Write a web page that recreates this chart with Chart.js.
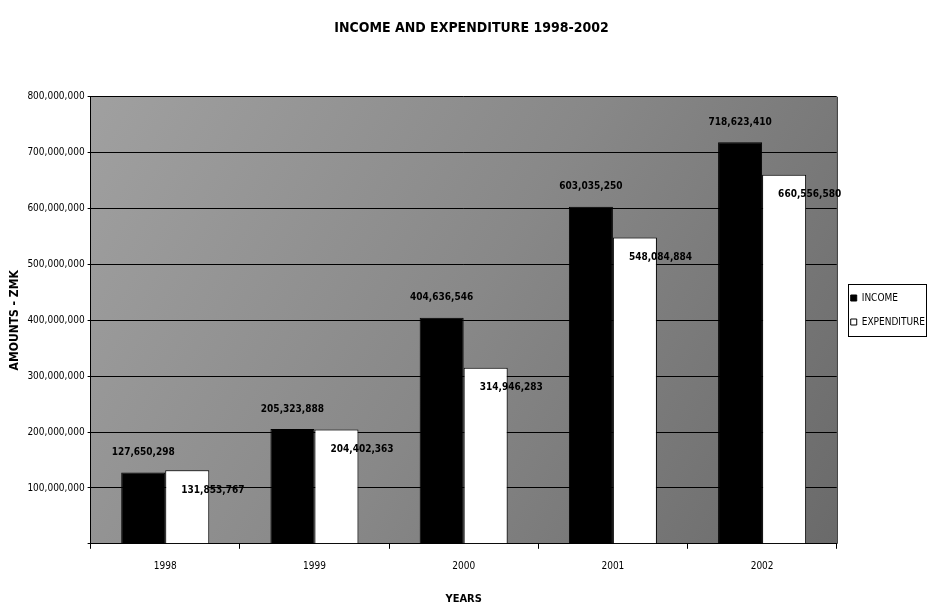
<!DOCTYPE html>
<html>
<head>
<meta charset="utf-8">
<script src="https://cdn.jsdelivr.net/npm/chart.js@4.4.1/dist/chart.umd.min.js"></script>
<style>
html,body{margin:0;padding:0;background:#fff;}
#wrap{width:929px;height:606px;}
</style>
</head>
<body>
<div id="wrap"><canvas id="c" width="929" height="606"></canvas></div>
<script>
const years = ['1998', '1999', '2000', '2001', '2002'];
const income = [127650298, 205323888, 404636546, 603035250, 718623410];
const expenditure = [131853767, 204402363, 314946283, 548084884, 660556580];
const seriesNames = ['INCOME', 'EXPENDITURE'];
const chartTitle = 'INCOME AND EXPENDITURE 1998-2002';
const xTitle = 'YEARS';
const yTitle = 'AMOUNTS - ZMK';

const NARROW = '"DejaVu Sans Condensed", "Liberation Sans Narrow", sans-serif';
const fmt = v => Math.round(v).toLocaleString('en-US');

const plotBg = {
  id: 'plotBg',
  beforeDraw(chart) {
    const {ctx, chartArea: a} = chart;
    const g = ctx.createLinearGradient(a.left, a.top, a.right, a.bottom);
    g.addColorStop(0, '#a0a0a0');
    g.addColorStop(0.5, '#888888');
    g.addColorStop(1, '#6a6a6a');
    ctx.save();
    ctx.fillStyle = g;
    ctx.fillRect(a.left, a.top, a.right - a.left, a.bottom - a.top);
    ctx.restore();
  },
  afterDraw(chart) {
    const {ctx, chartArea: a} = chart;
    ctx.save();
    ctx.strokeStyle = '#000';
    ctx.lineWidth = 1;
    ctx.beginPath();
    ctx.moveTo(a.right + 0.5, a.top);
    ctx.lineTo(a.right + 0.5, a.bottom);
    ctx.stroke();
    const lg = chart.legend;
    if (lg && lg.legendHitBoxes && lg.legendHitBoxes.length) {
      const hb = lg.legendHitBoxes;
      let minX = Infinity, minY = Infinity, maxX = -Infinity, maxY = -Infinity;
      hb.forEach(b => { minX = Math.min(minX, b.left); minY = Math.min(minY, b.top); maxX = Math.max(maxX, b.left + b.width); maxY = Math.max(maxY, b.top + b.height); });
      const x0 = Math.round(minX - 3);
      const x1 = Math.min(Math.round(maxX + 2), chart.width - 3);
      ctx.strokeRect(x0 + 0.5, Math.round(minY - 9) + 0.5, x1 - x0, Math.round(maxY - minY + 18));
    }
    ctx.restore();
  }
};

const dataLabels = {
  id: 'dataLabels',
  afterDatasetsDraw(chart) {
    const {ctx} = chart;
    ctx.save();
    ctx.font = 'bold 10px ' + NARROW;
    ctx.fillStyle = '#000';
    ctx.textBaseline = 'middle';
    chart.data.datasets.forEach((ds, di) => {
      const meta = chart.getDatasetMeta(di);
      meta.data.forEach((bar, i) => {
        const txt = fmt(ds.data[i]);
        if (di === 0) {
          ctx.textAlign = 'center';
          ctx.fillText(txt, bar.x, bar.y - 20);
        } else {
          ctx.textAlign = 'left';
          ctx.fillText(txt, bar.x - 6, bar.y + 20);
        }
      });
    });
    ctx.restore();
  }
};

new Chart(document.getElementById('c'), {
  type: 'bar',
  data: {
    labels: years,
    datasets: [
      {label: seriesNames[0], data: income, backgroundColor: '#000', borderColor: '#000', borderWidth: 1},
      {label: seriesNames[1], data: expenditure, backgroundColor: '#fff', borderColor: '#000', borderWidth: 1}
    ]
  },
  options: {
    responsive: false,
    animation: false,
    devicePixelRatio: 1,
    layout: {padding: {left: 8, right: -6, top: 14, bottom: 0}},
    datasets: {bar: {categoryPercentage: 0.59, barPercentage: 1.0}},
    plugins: {
      title: {
        display: true,
        text: chartTitle,
        color: '#000',
        font: {family: NARROW, size: 14, weight: 'bold'},
        padding: {top: 6, bottom: 60}
      },
      legend: {
        position: 'right',
        align: 'center',
        labels: {
          color: '#000',
          font: {family: NARROW, size: 10},
          boxWidth: 6,
          boxHeight: 6,
          padding: 14
        }
      },
      tooltip: {enabled: false}
    },
    scales: {
      x: {
        grid: {display: true, drawOnChartArea: false, drawTicks: true, tickLength: 5, color: '#000', offset: true},
        border: {color: '#000'},
        ticks: {color: '#000', font: {family: NARROW, size: 10}, padding: 12},
        title: {display: true, text: xTitle, color: '#000', font: {family: NARROW, size: 11, weight: 'bold'}, padding: {top: 8, bottom: 0}}
      },
      y: {
        min: 0,
        max: 800000000,
        grid: {color: '#000', lineWidth: 1, drawTicks: true, tickLength: 3},
        border: {color: '#000'},
        ticks: {
          stepSize: 100000000,
          color: '#000',
          font: {family: NARROW, size: 10},
          padding: 3,
          callback: v => v === 0 ? '' : fmt(v)
        },
        title: {display: true, text: yTitle, color: '#000', font: {family: NARROW, size: 12, weight: 'bold'}, padding: {top: 0, bottom: 2}}
      }
    }
  },
  plugins: [plotBg, dataLabels]
});
</script>
</body>
</html>
